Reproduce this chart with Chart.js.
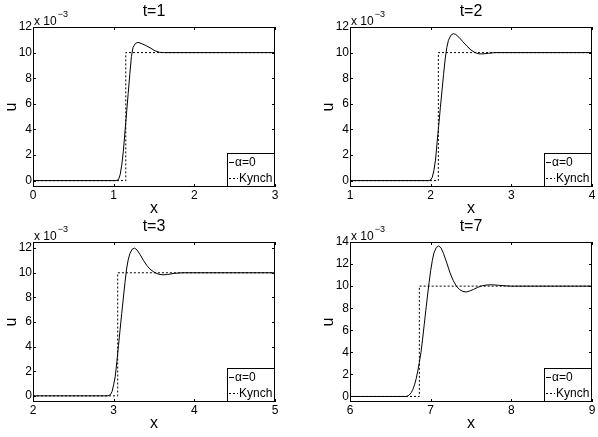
<!DOCTYPE html>
<html>
<head>
<meta charset="utf-8">
<script src="https://cdn.jsdelivr.net/npm/chart.js@4"></script>
<style>
  html, body { margin: 0; padding: 0; background: #fff; }
  body { width: 598px; height: 437px; position: relative; overflow: hidden; }
  canvas { position: absolute; }
</style>
</head>
<body>
<canvas id="p1" width="299" height="218" style="left:0;top:0"></canvas>
<canvas id="p2" width="281" height="218" style="left:317px;top:0"></canvas>
<canvas id="p3" width="299" height="218" style="left:0;top:215px"></canvas>
<canvas id="p4" width="281" height="218" style="left:317px;top:215px"></canvas>
<script>
// DATA (u in units of 10^-3)
// -----------------------------
const titles = ['t=1', 't=2', 't=3', 't=7'];

// alpha = 0 solution
const x1 = [0, 1.03, 1.06, 1.08, 1.10, 1.12, 1.14, 1.16, 1.18, 1.20, 1.22, 1.24, 1.27, 1.30, 1.34, 1.39, 1.45, 1.51, 1.57, 1.63, 3];
const u1 = [0, 0, 0.08, 0.45, 1.2, 2.3, 3.8, 5.3, 6.8, 8.3, 9.7, 10.4, 10.72, 10.8, 10.72, 10.58, 10.38, 10.15, 10.02, 10.0, 10.0];

const x2 = [1, 1.98, 2.00, 2.02, 2.04, 2.06, 2.08, 2.10, 2.12, 2.14, 2.16, 2.18, 2.20, 2.22, 2.25, 2.28, 2.31, 2.35, 2.40, 2.45, 2.50, 2.55, 2.60, 2.65, 2.72, 2.80, 4];
const u2 = [0, 0, 0.05, 0.25, 0.8, 1.6, 3.0, 4.3, 5.7, 7.0, 8.3, 9.5, 10.4, 10.95, 11.35, 11.48, 11.42, 11.2, 10.85, 10.5, 10.2, 10.0, 9.9, 9.9, 9.95, 10.0, 10.0];

const x3 = [2, 2.93, 2.96, 2.98, 3.00, 3.02, 3.04, 3.06, 3.08, 3.10, 3.12, 3.14, 3.16, 3.18, 3.20, 3.23, 3.26, 3.29, 3.33, 3.37, 3.41, 3.45, 3.50, 3.55, 3.61, 3.67, 3.75, 3.85, 5];
const u3 = [0, 0, 0.1, 0.35, 0.9, 1.6, 2.8, 4.1, 5.4, 6.7, 7.95, 9.2, 10.3, 11.05, 11.55, 11.92, 12.0, 11.85, 11.45, 11.0, 10.6, 10.3, 10.05, 9.9, 9.83, 9.86, 9.95, 10.0, 10.0];

const x4 = [6, 6.70, 6.73, 6.76, 6.78, 6.80, 6.82, 6.84, 6.86, 6.88, 6.90, 6.92, 6.94, 6.96, 6.98, 7.00, 7.02, 7.04, 7.07, 7.10, 7.13, 7.16, 7.20, 7.24, 7.28, 7.32, 7.36, 7.40, 7.44, 7.48, 7.53, 7.58, 7.64, 7.70, 7.77, 7.84, 7.92, 8.0, 9];
const u4 = [0, 0, 0.1, 0.35, 0.65, 1.05, 1.6, 2.3, 3.1, 4.0, 5.2, 6.5, 7.8, 9.1, 10.3, 11.4, 12.3, 13.0, 13.5, 13.65, 13.45, 12.95, 12.1, 11.2, 10.5, 9.98, 9.68, 9.52, 9.47, 9.55, 9.7, 9.88, 10.04, 10.11, 10.12, 10.08, 10.03, 10.0, 10.0];

// Kynch step solution
const kx1 = [0, 1.15, 1.15, 3];
const kx2 = [1, 2.095, 2.095, 4];
const kx3 = [2, 3.05, 3.05, 5];
const kx4 = [6, 6.86, 6.86, 9];
const ku = [0, 0, 10, 10];

// axis ticks
const xTicks1 = [0, 1, 2, 3];
const xTicks2 = [1, 2, 3, 4];
const xTicks3 = [2, 3, 4, 5];
const xTicks4 = [6, 7, 8, 9];
const yTicks12 = [0, 2, 4, 6, 8, 10, 12];
const yTicks14 = [0, 2, 4, 6, 8, 10, 12, 14];

const FONT = '"Liberation Sans", Arial, Helvetica, sans-serif';

// matlab style box, inner ticks, title, exponent and legend
const matlabAxes = {
  id: 'matlabAxes',
  afterDraw(chart, args, opts) {
    const { ctx, chartArea: a, scales } = chart;
    ctx.save();
    ctx.strokeStyle = '#000';
    ctx.lineWidth = 1;
    ctx.strokeRect(a.left + 0.5, a.top + 0.5, a.right - a.left - 1, a.bottom - a.top - 1);

    const tl = 3;
    ctx.beginPath();
    scales.x.ticks.forEach(t => {
      const px = Math.round(scales.x.getPixelForValue(t.value)) + 0.5;
      ctx.moveTo(px, a.bottom); ctx.lineTo(px, a.bottom - tl);
      ctx.moveTo(px, a.top); ctx.lineTo(px, a.top + tl);
    });
    scales.y.ticks.forEach(t => {
      const py = Math.round(scales.y.getPixelForValue(t.value)) + 0.5;
      ctx.moveTo(a.left, py); ctx.lineTo(a.left + tl, py);
      ctx.moveTo(a.right, py); ctx.lineTo(a.right - tl, py);
    });
    ctx.stroke();

    // title
    ctx.fillStyle = '#000';
    ctx.font = '16px ' + FONT;
    ctx.textAlign = 'center';
    ctx.textBaseline = 'middle';
    ctx.fillText(opts.title, (a.left + a.right) / 2, 12);

    // x 10^-3
    ctx.textAlign = 'left';
    ctx.textBaseline = 'alphabetic';
    ctx.font = '12px ' + FONT;
    ctx.fillText('x 10', a.left + 1, a.top - 2);
    const w = ctx.measureText('x 10').width;
    ctx.font = '9px ' + FONT;
    ctx.fillText('\u22123', a.left + 2 + w, a.top - 10);

    // legend
    const lx = a.right - 48, ly = a.bottom - 34;
    ctx.fillStyle = '#fff';
    ctx.fillRect(lx, ly, a.right - lx, a.bottom - ly);
    ctx.strokeRect(lx + 0.5, ly + 0.5, a.right - lx - 1, a.bottom - ly - 1);
    ctx.font = '12px ' + FONT;
    ctx.textBaseline = 'middle';
    chart.data.datasets.forEach((ds, i) => {
      const ry = Math.round(ly + 9 + i * 16) + 0.5;
      const len = i === 0 ? 5 : 9;
      ctx.setLineDash(ds.borderDash || []);
      ctx.beginPath();
      ctx.moveTo(lx + 2, ry); ctx.lineTo(lx + 2 + len, ry);
      ctx.stroke();
      ctx.setLineDash([]);
      ctx.fillStyle = '#000';
      ctx.fillText(ds.label, lx + 3 + len, ry);
    });
    ctx.restore();
  }
};

function pts(xs, us) {
  return xs.map((x, i) => ({ x: x, y: us[i] }));
}

function makeChart(id, title, xs, us, kxs, xTicks, yTicks, yMax, padRight) {
  return new Chart(document.getElementById(id), {
    type: 'line',
    data: {
      datasets: [
        {
          label: '\u03b1=0',
          data: pts(xs, us),
          borderColor: '#000',
          borderWidth: 1,
          pointRadius: 0,
          tension: 0,
        },
        {
          label: 'Kynch',
          data: pts(kxs, ku),
          borderColor: '#000',
          borderWidth: 1,
          borderDash: [2, 2],
          pointRadius: 0,
          tension: 0,
        },
      ],
    },
    options: {
      responsive: false,
      animation: false,
      layout: { padding: { top: 27, right: padRight, left: 0, bottom: 0 } },
      plugins: {
        legend: { display: false },
        tooltip: { enabled: false },
        title: { display: false },
        matlabAxes: { title: title },
      },
      scales: {
        x: {
          type: 'linear',
          min: xTicks[0],
          max: xTicks[xTicks.length - 1],
          afterBuildTicks: s => { s.ticks = xTicks.map(v => ({ value: v })); },
          afterFit: s => { s.height = 31; },
          grid: { display: false, drawTicks: false },
          border: { display: false },
          ticks: { color: '#000', padding: 1.5, font: { family: FONT, size: 12 }, maxRotation: 0 },
          title: { display: true, text: 'x', color: '#000', padding: { top: 0, bottom: 0 }, font: { family: FONT, size: 16 } },
        },
        y: {
          type: 'linear',
          min: -0.5,
          max: yMax,
          afterBuildTicks: s => { s.ticks = yTicks.map(v => ({ value: v })); },
          afterFit: s => { s.width = 33; },
          grid: { display: false, drawTicks: false },
          border: { display: false },
          ticks: { color: '#000', padding: 1, font: { family: FONT, size: 12 } },
          title: { display: true, text: 'u', color: '#000', padding: { top: 2, bottom: 0 }, font: { family: FONT, size: 16 } },
        },
      },
    },
    plugins: [matlabAxes],
  });
}

// RENDER CHARTS
// -----------------------------
makeChart('p1', titles[0], x1, u1, kx1, xTicks1, yTicks12, 12, 24);
makeChart('p2', titles[1], x2, u2, kx2, xTicks2, yTicks12, 12, 6);
makeChart('p3', titles[2], x3, u3, kx3, xTicks3, yTicks12, 12.5, 24);
makeChart('p4', titles[3], x4, u4, kx4, xTicks4, yTicks14, 14, 6);
</script>
</body>
</html>
